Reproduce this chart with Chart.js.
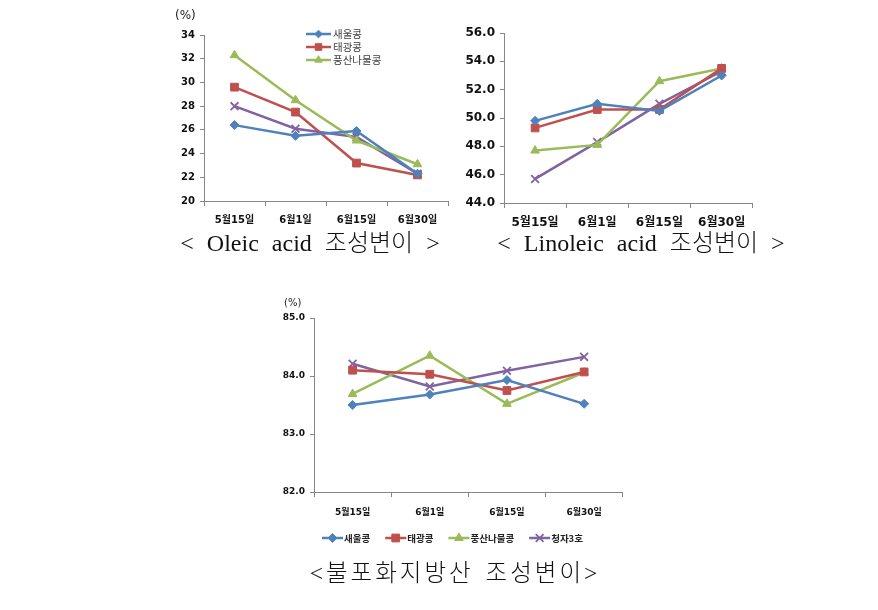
<!DOCTYPE html>
<html>
<head>
<meta charset="utf-8">
<script src="https://cdn.jsdelivr.net/npm/chart.js@4.4.1/dist/chart.umd.min.js"></script>
<style>
  body { margin: 0; background: #fff; width: 878px; height: 610px; position: relative; overflow: hidden; }
  canvas { position: absolute; }
  .title { position: absolute; width: 420px; text-align: center; white-space: pre; color: #111;
           font-family: "Liberation Serif", "Noto Sans CJK KR", serif; font-size: 24px; line-height: 28px; font-weight: 300; }
  .unit { position: absolute; font-family: "DejaVu Sans", sans-serif; color: #222; }
</style>
</head>
<body>
<canvas id="oleic" width="300" height="230" style="left:160px;top:0"></canvas>
<canvas id="linoleic" width="300" height="230" style="left:460px;top:0"></canvas>
<canvas id="unsat" width="360" height="270" style="left:270px;top:290px"></canvas>

<div class="unit" style="left:175px;top:8px;font-size:12px">(%)</div>
<div class="unit" style="left:284px;top:297px;font-size:10px">(%)</div>

<div class="title" style="left:100px;top:229px;word-spacing:7px">&lt; Oleic acid 조성변이 &gt;</div>
<div class="title" style="left:431px;top:229px;word-spacing:7px">&lt; Linoleic acid 조성변이 &gt;</div>
<div class="title" style="left:245px;top:559px;font-size:23.5px;letter-spacing:3px;word-spacing:3px">&lt;불포화지방산 조성변이&gt;</div>

<script>
// ── data ─────────────────────────────────────────────────────────────────────
const dates = ['5월15일', '6월1일', '6월15일', '6월30일'];
const cultivars = ['새울콩', '태광콩', '풍산나물콩', '청자3호'];

const oleicSaeul = [26.4, 25.5, 25.9, 22.3];
const oleicTaegwang = [29.6, 27.5, 23.2, 22.2];
const oleicPungsan = [32.3, 28.5, 25.1, 23.1];
const oleicCheongja = [28.0, 26.1, 25.4, 22.3];
const oleicTicks = [20, 22, 24, 26, 28, 30, 32, 34];

const linoleicSaeul = [49.8, 51.0, 50.5, 53.0];
const linoleicTaegwang = [49.3, 50.6, 50.6, 53.5];
const linoleicPungsan = [47.7, 48.1, 52.6, 53.5];
const linoleicCheongja = [45.7, 48.3, 51.0, 53.3];
const linoleicTicks = [44, 46, 48, 50, 52, 54, 56];

const unsatSaeul = [83.50, 83.68, 83.93, 83.52];
const unsatTaegwang = [84.10, 84.03, 83.75, 84.07];
const unsatPungsan = [83.69, 84.35, 83.52, 84.06];
const unsatCheongja = [84.21, 83.82, 84.09, 84.33];
const unsatTicks = [82, 83, 84, 85];

// ── styles ───────────────────────────────────────────────────────────────────
const seriesStyle = [
  { color: '#4F81BD', point: 'rectRot', radius: 4.5 },
  { color: '#C0504D', point: 'rect', radius: 5.5 },
  { color: '#9BBB59', point: 'triangle', radius: 5 },
  { color: '#8064A2', point: 'crossRot', radius: 5.5 },
];
const AXIS = '#868686';
const TICK_FONT = 'DejaVu Sans, "Noto Sans CJK KR", sans-serif';

// draws an Excel-like legend (line + marker + label) at fixed spots
const seriesLegend = {
  id: 'seriesLegend',
  afterDraw(chart, args, o) {
    if (!o.items) return;
    const ctx = chart.ctx;
    ctx.save();
    ctx.font = o.font;
    ctx.textBaseline = 'middle';
    let x = o.x, y = o.y;
    o.items.forEach((i) => {
      const ds = chart.data.datasets[i];
      ctx.strokeStyle = ds.borderColor;
      ctx.fillStyle = ds.backgroundColor;
      ctx.lineWidth = ds.borderWidth;
      ctx.beginPath();
      ctx.moveTo(x, y);
      ctx.lineTo(x + o.line, y);
      ctx.stroke();
      ctx.lineWidth = ds.pointStyle === 'crossRot' ? 1.8 : 1;
      Chart.helpers.drawPoint(ctx, { pointStyle: ds.pointStyle, radius: ds.pointRadius * o.marker, borderWidth: ctx.lineWidth, rotation: 0 }, x + o.line / 2, y);
      ctx.fillStyle = o.color;
      const tx = x + o.line + o.gap;
      ctx.fillText(ds.label, tx, y);
      if (o.dir === 'v') y += o.step;
      else x = tx + ctx.measureText(ds.label).width + o.space;
    });
    ctx.restore();
  },
};

function datasets(values) {
  return values.map((data, i) => ({
    label: cultivars[i],
    data,
    borderColor: seriesStyle[i].color,
    backgroundColor: seriesStyle[i].color,
    borderWidth: 2.5,
    pointStyle: seriesStyle[i].point,
    pointRadius: seriesStyle[i].radius,
    pointBorderWidth: seriesStyle[i].point === 'crossRot' ? 1.8 : 1,
    tension: 0,
  }));
}

function makeChart(id, values, ticks, dp, cfg) {
  new Chart(document.getElementById(id), {
    type: 'line',
    data: { labels: dates, datasets: datasets(values) },
    options: {
      responsive: false,
      animation: false,
      layout: { padding: cfg.padding },
      plugins: { legend: { display: false }, tooltip: { enabled: false }, seriesLegend: cfg.legend || {} },
      scales: {
        x: {
          offset: true,
          grid: { offset: true, drawOnChartArea: false, color: AXIS, tickLength: 5, tickWidth: 1 },
          border: { color: AXIS, width: 1 },
          ticks: { color: '#111', padding: cfg.xPad, font: { family: TICK_FONT, size: cfg.fontSize, weight: 'bold' } },
          afterFit: (s) => { s.height = cfg.xHeight; },
        },
        y: {
          min: ticks[0],
          max: ticks[ticks.length - 1],
          afterBuildTicks: (s) => { s.ticks = ticks.map((v) => ({ value: v })); },
          grid: { drawOnChartArea: false, color: AXIS, tickLength: 4 },
          border: { color: AXIS, width: 1 },
          ticks: {
            color: '#111',
            padding: 5,
            font: { family: TICK_FONT, size: cfg.fontSize, weight: 'bold' },
            callback: (v) => v.toFixed(dp),
          },
          afterFit: (s) => { s.width = cfg.yWidth; },
        },
      },
    },
    plugins: [seriesLegend],
  });
}

makeChart('oleic', [oleicSaeul, oleicTaegwang, oleicPungsan, oleicCheongja], oleicTicks, 0, {
  padding: { top: 35, right: 12, left: 0, bottom: 0 },
  yWidth: 44, xHeight: 29, xPad: 8, fontSize: 10,
  legend: { items: [0, 1, 2], dir: 'v', x: 146, y: 34, step: 13, line: 25, gap: 2, marker: 0.85,
            font: '10.5px "Noto Sans CJK KR", sans-serif', color: '#404040' },
});

makeChart('linoleic', [linoleicSaeul, linoleicTaegwang, linoleicPungsan, linoleicCheongja], linoleicTicks, 1, {
  padding: { top: 33, right: 6, left: 0, bottom: 0 },
  yWidth: 44, xHeight: 27, xPad: 8, fontSize: 12,
});

makeChart('unsat', [unsatSaeul, unsatTaegwang, unsatPungsan, unsatCheongja], unsatTicks, 1, {
  padding: { top: 28, right: 3, left: 0, bottom: 0 },
  yWidth: 44, xHeight: 68, xPad: 10, fontSize: 9,
  legend: { items: [0, 1, 2, 3], dir: 'h', x: 52, y: 248, line: 21, gap: 1, space: 15, marker: 1,
            font: 'bold 9.5px "Noto Sans CJK KR", sans-serif', color: '#222' },
});
</script>
</body>
</html>
